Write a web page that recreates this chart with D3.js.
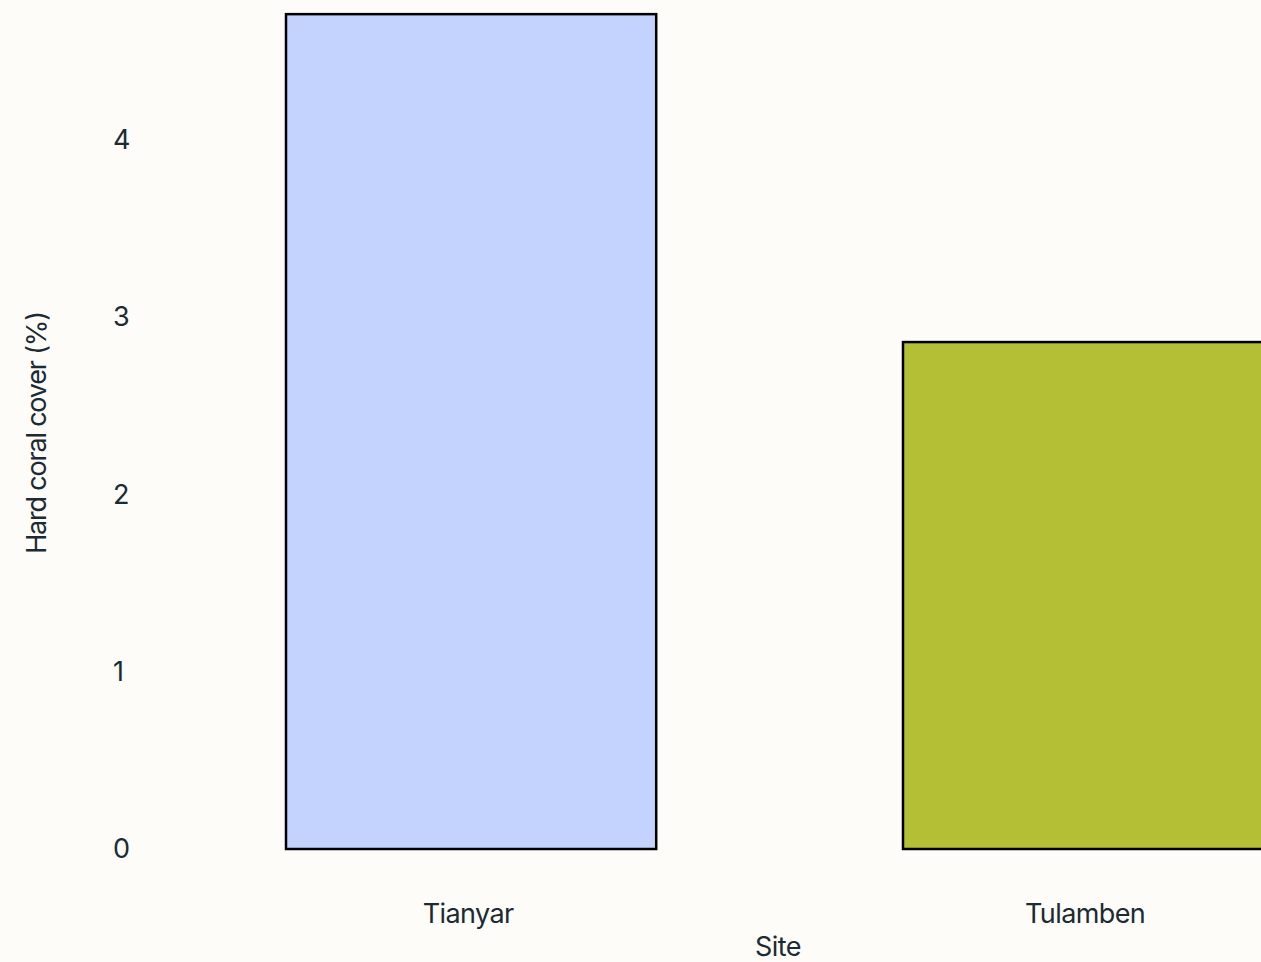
<!DOCTYPE html>
<html><head><meta charset="utf-8">
<script src="https://cdn.jsdelivr.net/npm/d3@7"></script>
<style>
html,body{margin:0;padding:0;background:#fefcf9;}
svg{display:block;}
text{font-family:Inter,"Noto Sans",sans-serif;fill:#1b2a33;}
</style></head>
<body>
<script>
const sites = ["Tianyar", "Tulamben"];
const coverValues = [4.71, 2.86];
const barColors = ["#c3d3fe", "#b4bf35"];
const yTicks = [0, 1, 2, 3, 4];
const xTitle = "Site";
const yTitle = "Hard coral cover (%)";

const W = 1261, H = 962;
const svg = d3.select("body").append("svg").attr("width", W).attr("height", H);
svg.append("rect").attr("width", W).attr("height", H).attr("fill", "#fefcf9");

const x = d3.scaleBand().domain(sites).range([162.6, 1396.6]).paddingInner(0.4).paddingOuter(0.2);
const y = d3.scaleLinear().domain([0, 5]).range([849, 849 - 5 * 177.25]);

svg.selectAll("rect.bar").data(sites).join("rect")
  .attr("class", "bar")
  .attr("x", d => x(d))
  .attr("width", x.bandwidth())
  .attr("y", (d, i) => y(coverValues[i]))
  .attr("height", (d, i) => y(0) - y(coverValues[i]))
  .attr("fill", (d, i) => barColors[i])
  .attr("stroke", "#000")
  .attr("stroke-width", 2.5);

const fs = 27;
const ls = "-0.6px";
svg.selectAll("text.yt").data(yTicks).join("text")
  .attr("class", "yt")
  .attr("x", 113)
  .attr("y", d => y(d))
  .attr("dy", "0.34em")
  .attr("font-size", fs)
  .style("letter-spacing", ls)
  .text(d => d);

svg.selectAll("text.xt").data(sites).join("text")
  .attr("class", "xt")
  .attr("x", d => x(d) + x.bandwidth() / 2 - 3)
  .attr("y", 923)
  .attr("text-anchor", "middle")
  .attr("font-size", fs)
  .style("letter-spacing", ls)
  .text(d => d);

svg.append("text")
  .attr("x", 778).attr("y", 956)
  .attr("text-anchor", "middle")
  .attr("font-size", fs)
  .style("letter-spacing", ls)
  .text(xTitle);

svg.append("text")
  .attr("transform", "translate(46,433) rotate(-90)")
  .attr("text-anchor", "middle")
  .attr("font-size", fs)
  .style("letter-spacing", "-1.2px")
  .text(yTitle);
</script>
</body></html>
